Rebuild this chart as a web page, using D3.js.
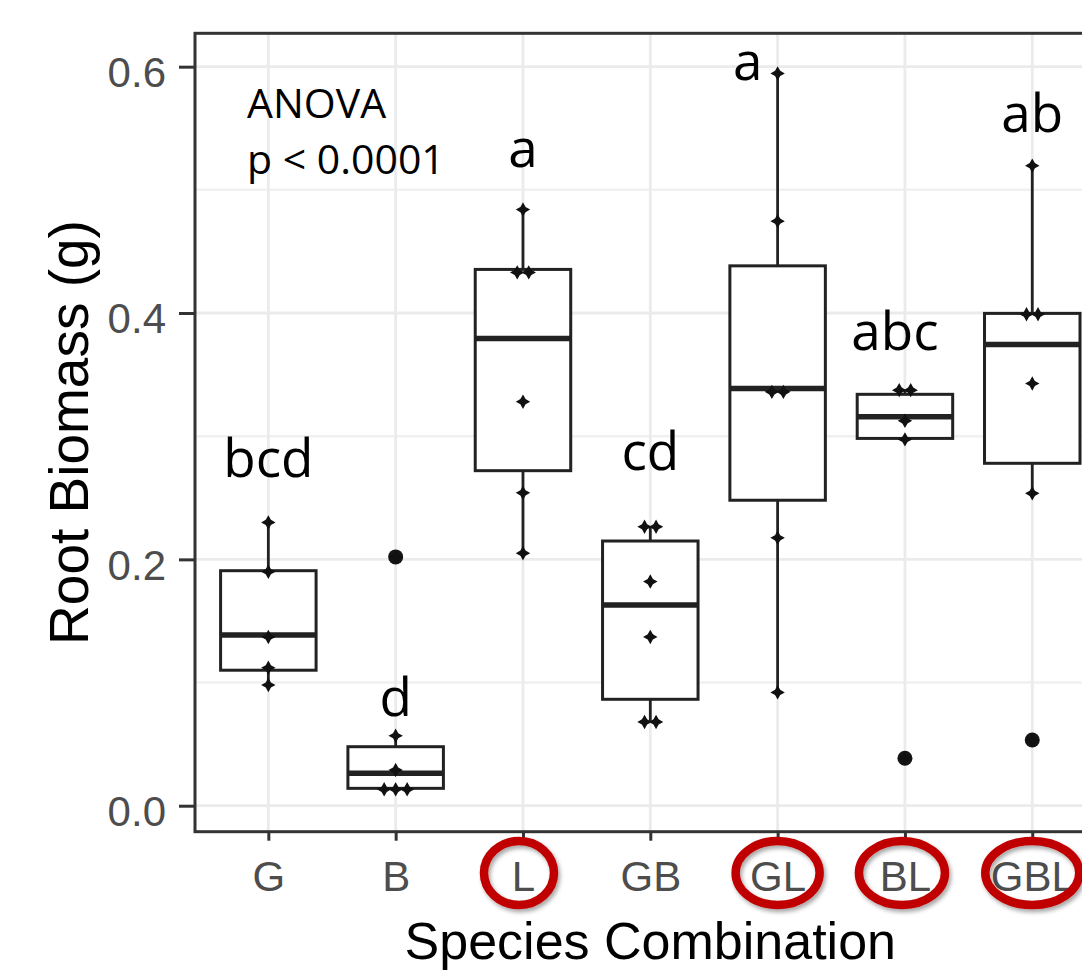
<!DOCTYPE html>
<html>
<head>
<meta charset="utf-8">
<style>
  body { margin: 0; background: #fff; }
  svg { display: block; }
</style>
</head>
<body>
<div id="chart"></div>
<script src="https://cdn.jsdelivr.net/npm/d3@7"></script>
<script>

// species combinations on the x axis
var categories = ["G", "B", "L", "GB", "GL", "BL", "GBL"];

// boxplot summaries (g)
var whiskerLow  = [0.098, 0.0133, 0.205, 0.068, 0.092, 0.2974, 0.2536];
var q1          = [0.110, 0.0141, 0.272, 0.0864, 0.248, 0.2982, 0.278];
var median      = [0.1386, 0.0263, 0.3794, 0.163, 0.3388, 0.3158, 0.3745];
var q3          = [0.1908, 0.0479, 0.4354, 0.2149, 0.4383, 0.334, 0.3997];
var whiskerHigh = [0.230, 0.0568, 0.484, 0.2265, 0.5945, 0.3374, 0.5196];
var outliers    = [[], [0.202], [], [], [], [0.0385], [0.0533]];

// individual pots (small star markers)
var points = [
  [0.230, 0.190, 0.137, 0.112, 0.098],
  [0.202, 0.0568, 0.029, 0.0133, 0.0133, 0.0133],
  [0.484, 0.433, 0.433, 0.328, 0.254, 0.205],
  [0.2265, 0.2265, 0.182, 0.137, 0.068, 0.068],
  [0.5945, 0.4746, 0.336, 0.336, 0.2175, 0.092],
  [0.3374, 0.3374, 0.3125, 0.2974, 0.0385],
  [0.5196, 0.399, 0.399, 0.3428, 0.2536, 0.0533]
];

// Tukey letters and the height (g) of their baseline
var letters  = ["bcd", "d", "a", "cd", "a", "abc", "ab"];
var letterAt = [0.2668, 0.0731, 0.5187, 0.2725, 0.589, 0.370, 0.547];

var highlighted = ["L", "GL", "BL", "GBL"];

var yTicks = [0, 0.2, 0.4, 0.6];
var yMinor = [0.1, 0.3, 0.5];

var anovaLines = ["ANOVA", "p < 0.0001"];

// ---- layout / style ----
var width = 1082, height = 970;
var panelL = 195, panelT = 33.3, panelR = 1105.6, panelB = 831.7;
var letterDx = {4: -30, 5: -10};
var ringRx = {L: 35, GL: 42, BL: 43, GBL: 47};
var ringDx = {L: -4, BL: -3};

var svg = d3.select("#chart").append("svg")
    .attr("width", width)
    .attr("height", height);

var defs = svg.append("defs");
var shadow = defs.append("filter").attr("id", "shadow")
    .attr("x", "-20%").attr("y", "-20%").attr("width", "140%").attr("height", "150%");
shadow.append("feDropShadow")
    .attr("dx", 2).attr("dy", 3).attr("stdDeviation", 2)
    .attr("flood-color", "#000").attr("flood-opacity", 0.35);

var x = d3.scalePoint()
    .domain(categories)
    .range([panelL, panelR])
    .padding(0.576);

var y = d3.scaleLinear()
    .domain([-0.0211, 0.6271])
    .range([panelB, panelT]);

var boxW = x.step() * 0.75;

// grid
var grid = svg.append("g");
grid.selectAll("line.minor")
  .data(yMinor)
  .enter().append("line")
    .attr("class", "minor")
    .attr("x1", panelL).attr("x2", panelR)
    .attr("y1", d => y(d)).attr("y2", d => y(d))
    .attr("stroke", "#f0f0f0")
    .attr("stroke-width", 2.5);
grid.selectAll("line.major")
  .data(yTicks)
  .enter().append("line")
    .attr("class", "major")
    .attr("x1", panelL).attr("x2", panelR)
    .attr("y1", d => y(d)).attr("y2", d => y(d))
    .attr("stroke", "#ebebeb")
    .attr("stroke-width", 2.8);
grid.selectAll("line.vert")
  .data(categories)
  .enter().append("line")
    .attr("class", "vert")
    .attr("x1", d => x(d)).attr("x2", d => x(d))
    .attr("y1", panelT).attr("y2", panelB)
    .attr("stroke", "#ebebeb")
    .attr("stroke-width", 2.8);

// boxes
var boxes = svg.append("g").selectAll("g")
  .data(categories)
  .enter().append("g");

boxes.append("line")
    .attr("x1", d => x(d)).attr("x2", d => x(d))
    .attr("y1", (d, i) => y(q3[i])).attr("y2", (d, i) => y(whiskerHigh[i]))
    .attr("stroke", "#222").attr("stroke-width", 2.8);
boxes.append("line")
    .attr("x1", d => x(d)).attr("x2", d => x(d))
    .attr("y1", (d, i) => y(q1[i])).attr("y2", (d, i) => y(whiskerLow[i]))
    .attr("stroke", "#222").attr("stroke-width", 2.8);
boxes.append("rect")
    .attr("x", d => x(d) - boxW / 2)
    .attr("width", boxW)
    .attr("y", (d, i) => y(q3[i]))
    .attr("height", (d, i) => y(q1[i]) - y(q3[i]))
    .attr("fill", "#fff")
    .attr("stroke", "#222")
    .attr("stroke-width", 3);
boxes.append("line")
    .attr("x1", d => x(d) - boxW / 2).attr("x2", d => x(d) + boxW / 2)
    .attr("y1", (d, i) => y(median[i])).attr("y2", (d, i) => y(median[i]))
    .attr("stroke", "#222").attr("stroke-width", 5.5);

// outliers
var outData = [];
categories.forEach((c, i) => outliers[i].forEach(v => outData.push({c: c, v: v})));
svg.append("g").selectAll("circle")
  .data(outData)
  .enter().append("circle")
    .attr("cx", d => x(d.c))
    .attr("cy", d => y(d.v))
    .attr("r", 7.5)
    .attr("fill", "#151515");

// individual points, dodged sideways when they share a value
var star4 = {
  draw: function(ctx, size) {
    var r = Math.sqrt(size), q = r * 0.36;
    ctx.moveTo(0, -r); ctx.lineTo(q, -q); ctx.lineTo(r, 0); ctx.lineTo(q, q);
    ctx.lineTo(0, r); ctx.lineTo(-q, q); ctx.lineTo(-r, 0); ctx.lineTo(-q, -q);
    ctx.closePath();
  }
};
var ptData = [];
categories.forEach((c, i) => {
  var groups = d3.group(points[i], v => v.toFixed(4));
  groups.forEach(vals => {
    vals.forEach((v, j) => ptData.push({c: c, v: v, off: (j - (vals.length - 1) / 2) * 11.5}));
  });
});
svg.append("g").selectAll("path")
  .data(ptData)
  .enter().append("path")
    .attr("d", d3.symbol().type(star4).size(52))
    .attr("transform", d => "translate(" + (x(d.c) + d.off) + "," + y(d.v) + ")")
    .attr("fill", "#111");

// letters
svg.append("g").selectAll("text")
  .data(letters)
  .enter().append("text")
    .attr("x", (d, i) => x(categories[i]) + (letterDx[i] || 0))
    .attr("y", (d, i) => y(letterAt[i]))
    .attr("text-anchor", "middle")
    .style("font-family", "'Open Sans', sans-serif")
    .style("font-size", "53px")
    .attr("fill", "#000")
    .text(d => d);

svg.append("g").selectAll("text")
  .data(anovaLines)
  .enter().append("text")
    .attr("x", 247)
    .attr("y", (d, i) => 118 + i * 56)
    .style("font-family", "'Open Sans', sans-serif")
    .style("font-size", "41px")
    .attr("fill", "#000")
    .text(d => d);

// axes
var yAxis = svg.append("g")
    .attr("transform", "translate(" + panelL + ",0)")
    .call(d3.axisLeft(y).tickValues(yTicks).tickSize(16).tickPadding(13).tickFormat(d3.format(".1f")));
yAxis.select(".domain").remove();
yAxis.selectAll("line").attr("stroke", "#333").attr("stroke-width", 3);
yAxis.selectAll("text")
    .attr("dy", "0.35em")
    .attr("transform", "translate(0,5)")
    .style("font-family", "'Liberation Sans', Arial, sans-serif")
    .style("font-size", "42px")
    .attr("fill", "#4d4d4d");

var xAxis = svg.append("g")
    .attr("transform", "translate(0," + panelB + ")")
    .call(d3.axisBottom(x).tickSize(9));
xAxis.select(".domain").remove();
xAxis.selectAll("line").attr("stroke", "#333").attr("stroke-width", 3);
xAxis.selectAll("text")
    .attr("y", 59)
    .attr("dy", 0)
    .style("font-family", "'Liberation Sans', Arial, sans-serif")
    .style("font-size", "42px")
    .attr("fill", "#4d4d4d");

// panel border
svg.append("rect")
    .attr("x", panelL).attr("y", panelT)
    .attr("width", panelR - panelL).attr("height", panelB - panelT)
    .attr("fill", "none")
    .attr("stroke", "#333")
    .attr("stroke-width", 3);

// red rings round the legume treatments
svg.append("g").selectAll("ellipse")
  .data(highlighted)
  .enter().append("ellipse")
    .attr("cx", d => x(d) + (ringDx[d] || 0))
    .attr("cy", 873)
    .attr("rx", d => ringRx[d])
    .attr("ry", 32)
    .attr("fill", "none")
    .attr("stroke", "#c00000")
    .attr("stroke-width", 8.5)
    .attr("filter", "url(#shadow)");

// axis titles
svg.append("text")
    .attr("x", (panelL + panelR) / 2)
    .attr("y", 959)
    .attr("text-anchor", "middle")
    .style("font-family", "'Liberation Sans', Arial, sans-serif")
    .style("font-size", "52px")
    .attr("fill", "#000")
    .text("Species Combination");

svg.append("text")
    .attr("transform", "translate(88," + (panelT + panelB) / 2 + ") rotate(-90)")
    .attr("text-anchor", "middle")
    .style("font-family", "'Liberation Sans', Arial, sans-serif")
    .style("font-size", "55px")
    .attr("fill", "#000")
    .text("Root Biomass (g)");

</script>
</body>
</html>
